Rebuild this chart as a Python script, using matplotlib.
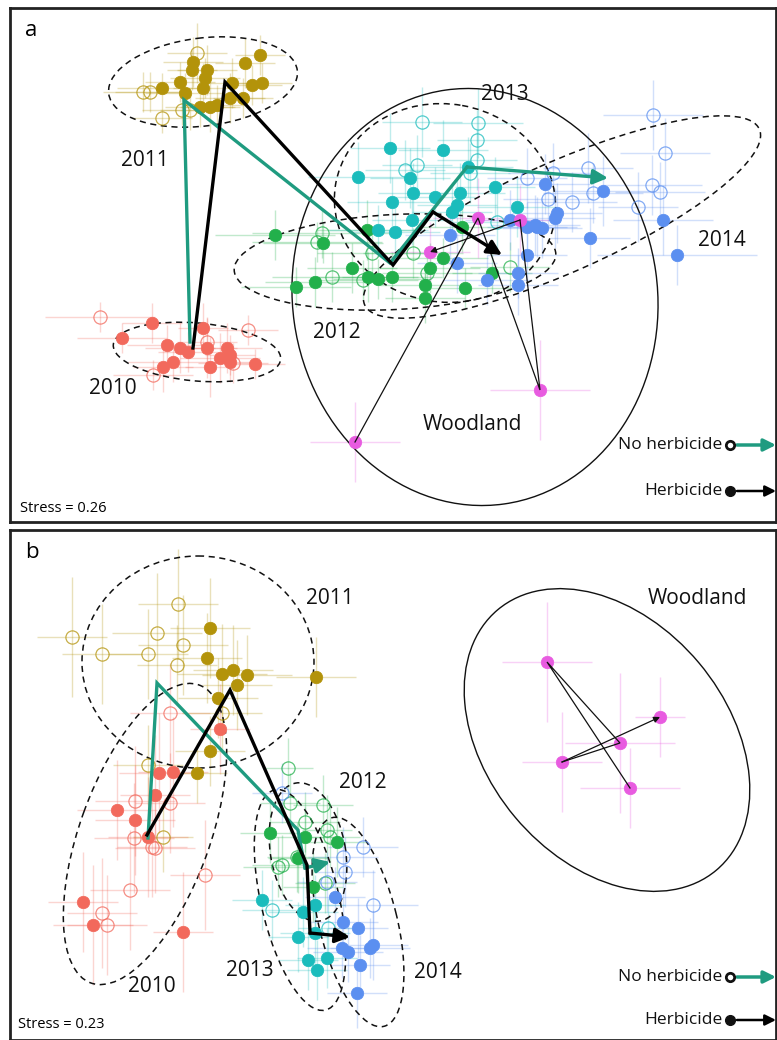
import matplotlib
matplotlib.use('Agg')
import matplotlib.pyplot as plt
from matplotlib.patches import Ellipse

plt.rcParams['font.family'] = ['Open Sans', 'DejaVu Sans']

# ---------------- colours ----------------
C2010 = '#f2695c'
C2011 = '#b3930a'
C2012 = '#22b04b'
C2013 = '#1bbcbc'
C2014 = '#5b8ff0'
CWOOD = '#e85be0'
CNOH = '#1f9b80'
CHERB = '#000000'

# ---------------- panel a data (x, y, xerr, yerr) ----------------
a2010_herb = [(152, 323, 30, 20), (122, 338, 45, 15), (203, 328, 25, 25), (167, 345, 40, 20),
              (180, 348, 35, 25), (188, 352, 30, 20), (207, 348, 30, 30), (227, 348, 35, 25),
              (230, 355, 25, 20), (220, 358, 40, 25), (173, 362, 45, 20), (163, 367, 30, 25),
              (210, 367, 25, 30), (255, 364, 30, 15), (230, 362, 25, 20)]
a2010_noh = [(100, 317, 55, 15), (248, 330, 30, 15), (153, 375, 40, 15), (233, 363, 35, 20),
             (207, 342, 30, 25)]
a2011_herb = [(260, 55, 25, 20), (245, 63, 30, 25), (193, 62, 30, 25), (192, 70, 25, 20),
              (207, 70, 30, 25), (205, 78, 35, 20), (162, 88, 45, 15), (180, 82, 35, 20),
              (185, 93, 40, 20), (203, 88, 30, 25), (232, 83, 30, 25), (252, 85, 30, 20),
              (262, 83, 30, 20), (230, 98, 35, 25), (243, 98, 30, 20), (200, 107, 35, 20),
              (210, 107, 30, 25), (217, 105, 30, 20)]
a2011_noh = [(197, 53, 30, 30), (143, 92, 40, 20), (150, 92, 35, 20), (182, 110, 40, 15),
             (162, 118, 30, 15), (190, 110, 30, 20)]
a2012_herb = [(296, 287, 55, 20), (315, 282, 50, 25), (323, 243, 60, 20), (275, 235, 60, 25),
              (352, 268, 45, 25), (367, 230, 50, 30), (368, 277, 50, 25), (378, 279, 45, 20),
              (392, 277, 50, 25), (425, 285, 45, 20), (425, 298, 40, 25), (430, 268, 50, 25),
              (443, 258, 45, 20), (462, 227, 40, 25), (465, 288, 45, 20), (492, 273, 40, 20)]
a2012_noh = [(322, 233, 70, 25), (317, 242, 65, 20), (332, 277, 60, 25), (363, 280, 55, 20),
             (372, 253, 55, 25), (413, 253, 50, 25), (427, 273, 45, 20), (510, 267, 40, 25)]
a2013_herb = [(390, 148, 40, 35), (443, 150, 45, 30), (358, 177, 50, 35), (410, 178, 40, 30),
              (413, 193, 35, 30), (392, 202, 45, 25), (435, 197, 40, 30), (460, 193, 45, 30),
              (457, 205, 40, 25), (452, 212, 40, 30), (468, 167, 45, 30), (495, 187, 40, 30),
              (517, 207, 40, 30), (378, 230, 50, 25), (395, 232, 45, 25), (412, 220, 40, 25)]
a2013_noh = [(422, 122, 40, 35), (478, 123, 45, 35), (477, 140, 40, 30), (477, 160, 40, 30),
             (405, 170, 40, 30), (417, 165, 35, 30), (470, 173, 40, 30), (497, 222, 45, 30)]
a2014_herb = [(545, 184, 45, 30), (603, 191, 50, 35), (557, 213, 45, 30), (555, 218, 40, 30),
              (535, 225, 45, 30), (542, 228, 40, 30), (510, 220, 45, 30), (527, 227, 40, 25),
              (537, 227, 40, 30), (450, 235, 45, 30), (457, 263, 40, 30), (487, 280, 45, 25),
              (518, 273, 40, 25), (518, 285, 40, 30), (590, 238, 40, 30), (527, 255, 40, 30),
              (663, 220, 50, 35), (677, 255, 80, 30)]
a2014_noh = [(653, 115, 50, 35), (665, 153, 45, 35), (588, 168, 45, 35), (652, 185, 50, 30),
             (660, 192, 45, 30), (638, 207, 40, 35), (572, 202, 45, 30), (548, 199, 45, 30),
             (593, 193, 50, 30), (553, 173, 45, 30), (527, 178, 40, 30)]
# woodland centroids in year order 2010..2014
a_wood = [(355, 442, 45, 40), (478, 218, 45, 40), (540, 390, 50, 50), (520, 220, 40, 35),
          (430, 252, 40, 30)]
# treatment trajectories (year centroids 2010..2014)
a_traj_noh = [(190, 342), (184, 100), (390, 263), (467, 167), (608, 178)]
a_traj_herb = [(193, 348), (225, 82), (393, 265), (433, 212), (502, 255)]
# ellipses (cx, cy, width, height, angle)
a_ell_years = [(197, 352, 168, 58, 5), (203, 82, 190, 88, -7), (395, 262, 322, 95, -3),
               (445, 203, 222, 198, 10), (562, 217, 432, 110, -24)]
a_ell_wood = (475, 297, 365, 418, -8)

# ---------------- panel b data ----------------
b2010_herb = [(220, 729, 30, 45), (159, 773, 40, 60), (173, 772, 35, 55), (155, 795, 35, 60),
              (117, 810, 40, 50), (135, 820, 40, 55), (148, 837, 40, 60), (83, 902, 35, 50),
              (93, 925, 40, 60), (183, 932, 30, 60)]
b2010_noh = [(170, 713, 40, 50), (135, 801, 40, 55), (170, 803, 35, 50), (134, 838, 40, 55),
             (152, 847, 35, 50), (155, 848, 40, 45), (205, 875, 35, 55), (130, 890, 40, 60),
             (102, 913, 35, 55), (107, 925, 40, 50)]
b2011_herb = [(210, 628, 40, 50), (207, 658, 35, 45), (222, 674, 45, 50), (233, 670, 40, 45),
              (247, 675, 45, 40), (237, 685, 35, 45), (218, 698, 40, 40), (316, 677, 40, 40),
              (210, 751, 35, 35), (197, 773, 30, 30)]
b2011_noh = [(72, 637, 35, 60), (102, 654, 40, 50), (157, 633, 45, 60), (178, 604, 40, 55),
             (183, 645, 45, 50), (148, 654, 40, 45), (177, 665, 40, 40), (222, 713, 40, 40),
             (148, 765, 35, 40), (163, 837, 30, 35)]
b2012_herb = [(270, 833, 30, 30), (305, 837, 35, 30), (337, 842, 30, 35), (298, 858, 30, 35),
              (313, 887, 30, 35)]
b2012_noh = [(288, 768, 25, 30), (323, 805, 30, 30), (305, 822, 35, 30), (290, 803, 30, 30),
             (327, 830, 25, 35), (330, 837, 30, 30), (282, 865, 30, 30), (278, 867, 35, 30),
             (325, 883, 30, 30), (297, 857, 30, 35)]
b2013_herb = [(262, 900, 30, 30), (303, 912, 35, 35), (315, 905, 30, 30), (298, 937, 30, 35),
              (315, 933, 35, 30), (308, 960, 30, 30), (327, 958, 30, 30), (317, 970, 30, 30)]
b2013_noh = [(272, 910, 30, 30), (328, 928, 30, 30)]
b2014_herb = [(335, 897, 30, 30), (343, 922, 35, 35), (358, 928, 30, 30), (342, 948, 35, 30),
              (348, 952, 35, 30), (370, 948, 40, 30), (373, 945, 35, 35), (360, 965, 30, 30),
              (357, 993, 30, 35)]
b2014_noh = [(363, 847, 35, 30), (343, 857, 35, 30), (345, 872, 30, 35), (373, 905, 45, 35),
             (327, 882, 30, 30), (282, 793, 30, 30)]
b_wood = [(630, 788, 50, 40), (547, 662, 45, 60), (620, 743, 55, 70), (562, 762, 40, 50),
          (660, 717, 25, 40)]
b_traj_noh = [(148, 838), (157, 683), (298, 830), (305, 868), (330, 862)]
b_traj_herb = [(147, 835), (230, 690), (307, 865), (310, 933), (350, 937)]
b_ell_years = [(145, 834, 317, 130, -70), (198, 662, 232, 212, 0), (308, 852, 140, 75, 80),
               (300, 900, 226, 78, 77), (358, 922, 215, 78, 76)]
b_ell_wood = (607, 740, 340, 240, 50)

YEARS = ['2010', '2011', '2012', '2013', '2014']
YCOL = [C2010, C2011, C2012, C2013, C2014]

# ---------------- figure ----------------
W, H = 777, 1040
fig = plt.figure(figsize=(W / 100, H / 100), dpi=100)


def make_ax(top, bottom):
    ax = fig.add_axes([10 / W, 1 - bottom / H, (776 - 10) / W, (bottom - top) / H])
    ax.set_xlim(10, 776)
    ax.set_ylim(bottom, top)
    ax.set_xticks([])
    ax.set_yticks([])
    for s in ax.spines.values():
        s.set_linewidth(2)
        s.set_color('#222222')
    return ax


def draw_points(ax, pts, color, filled):
    if not pts:
        return
    xs = [p[0] for p in pts]
    ys = [p[1] for p in pts]
    xe = [p[2] for p in pts]
    ye = [p[3] for p in pts]
    ax.errorbar(xs, ys, xerr=xe, yerr=ye, fmt='none', ecolor=color, alpha=0.28,
                elinewidth=1.0, capsize=0, zorder=1)
    if filled:
        ax.plot(xs, ys, 'o', ms=9, mfc=color, mec=color, mew=0.5, ls='none', zorder=3)
    else:
        ax.plot(xs, ys, 'o', ms=9.5, mfc='none', mec=color, mew=0.9, alpha=0.75,
                ls='none', zorder=3)


def draw_traj(ax, traj, color, lw, ms):
    xs = [p[0] for p in traj]
    ys = [p[1] for p in traj]
    ax.plot(xs[:-1], ys[:-1], color=color, lw=lw, zorder=5, solid_joinstyle='miter')
    ax.annotate('', xy=(xs[-1], ys[-1]), xytext=(xs[-2], ys[-2]),
                arrowprops=dict(arrowstyle='-|>', color=color, lw=lw, mutation_scale=ms,
                                shrinkA=0, shrinkB=0), zorder=5)


def draw_ellipse(ax, e, ls, lw):
    ax.add_patch(Ellipse((e[0], e[1]), e[2], e[3], angle=e[4], fill=False, ec='#111111',
                         ls=ls, lw=lw, zorder=2))


def legend(ax, y1, y2):
    ax.text(722, y1, 'No herbicide', ha='right', va='center', fontsize=12.5, color='#111111')
    ax.plot([730], [y1], 'o', ms=6, mfc='none', mec='#111111', mew=2, zorder=6)
    ax.annotate('', xy=(776, y1), xytext=(737, y1),
                arrowprops=dict(arrowstyle='-|>', color=CNOH, lw=2.5, mutation_scale=18,
                                shrinkA=0, shrinkB=0))
    ax.text(722, y2, 'Herbicide', ha='right', va='center', fontsize=12.5, color='#111111')
    ax.plot([730], [y2], 'o', ms=7, mfc='#111111', mec='#111111', zorder=6)
    ax.annotate('', xy=(776, y2), xytext=(737, y2),
                arrowprops=dict(arrowstyle='-|>', color=CHERB, lw=1.8, mutation_scale=16,
                                shrinkA=0, shrinkB=0))


def panel(ax, herb, noh, wood, ell_years, ell_wood, t_noh, t_herb):
    for e in ell_years:
        draw_ellipse(ax, e, (0, (4, 3)), 1.1)
    draw_ellipse(ax, ell_wood, '-', 1.0)
    for pts, c in zip(noh, YCOL):
        draw_points(ax, pts, c, False)
    for pts, c in zip(herb, YCOL):
        draw_points(ax, pts, c, True)
    draw_points(ax, wood, CWOOD, True)
    draw_traj(ax, [(p[0], p[1]) for p in wood], '#111111', 0.9, 9)
    draw_traj(ax, t_noh, CNOH, 2.4, 22)
    draw_traj(ax, t_herb, CHERB, 2.4, 22)


# ---- panel a ----
axa = make_ax(8, 522)
panel(axa,
      [a2010_herb, a2011_herb, a2012_herb, a2013_herb, a2014_herb],
      [a2010_noh, a2011_noh, a2012_noh, a2013_noh, a2014_noh],
      a_wood, a_ell_years, a_ell_wood, a_traj_noh, a_traj_herb)
axa.text(25, 30, 'a', fontsize=16, va='center', ha='left')
for (tx, ty), lab in zip([(113, 388), (145, 160), (337, 332), (505, 95), (722, 240)], YEARS):
    axa.text(tx, ty, lab, fontsize=15, ha='center', va='center', color='#111111')
axa.text(472, 425, 'Woodland', fontsize=15, ha='center', va='center', color='#111111')
axa.text(20, 508, 'Stress = 0.26', fontsize=10.5, ha='left', va='center')
legend(axa, 445, 491)

# ---- panel b ----
axb = make_ax(530, 1040)
panel(axb,
      [b2010_herb, b2011_herb, b2012_herb, b2013_herb, b2014_herb],
      [b2010_noh, b2011_noh, b2012_noh, b2013_noh, b2014_noh],
      b_wood, b_ell_years, b_ell_wood, b_traj_noh, b_traj_herb)
axb.text(25, 552, 'b', fontsize=16, va='center', ha='left')
for (tx, ty), lab in zip([(152, 987), (330, 598), (363, 783), (250, 970), (438, 973)], YEARS):
    axb.text(tx, ty, lab, fontsize=15, ha='center', va='center', color='#111111')
axb.text(697, 598, 'Woodland', fontsize=15, ha='center', va='center', color='#111111')
axb.text(18, 1024, 'Stress = 0.23', fontsize=10.5, ha='left', va='center')
legend(axb, 977, 1020)

fig.savefig('out.png', dpi=100)
